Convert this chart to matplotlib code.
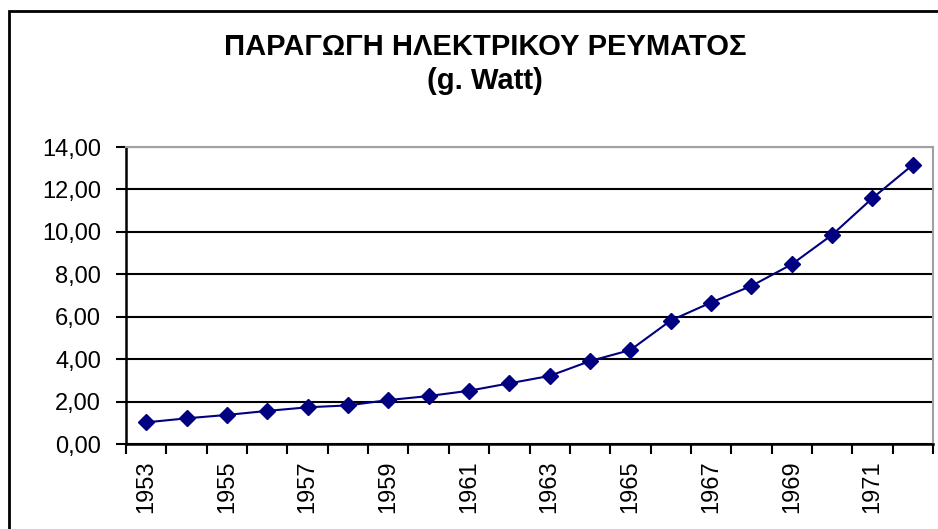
import matplotlib
matplotlib.use('Agg')
import matplotlib.pyplot as plt
from matplotlib.patches import Rectangle
from matplotlib.ticker import FixedLocator

years = [1953, 1954, 1955, 1956, 1957, 1958, 1959, 1960, 1961, 1962,
         1963, 1964, 1965, 1966, 1967, 1968, 1969, 1970, 1971, 1972]
production = [1.02, 1.21, 1.37, 1.56, 1.73, 1.82, 2.07, 2.26, 2.51, 2.86,
              3.21, 3.91, 4.43, 5.82, 6.67, 7.45, 8.47, 9.86, 11.59, 13.16]
y_ticks = [0, 2, 4, 6, 8, 10, 12, 14]
title = 'ΠΑΡΑΓΩΓΗ ΗΛΕΚΤΡΙΚΟΥ ΡΕΥΜΑΤΟΣ\n(g. Watt)'

plt.rcParams['font.family'] = ['Liberation Sans', 'DejaVu Sans']

fig = plt.figure(figsize=(9.38, 5.29), dpi=100)
ax = fig.add_axes([126 / 938, 1 - 444 / 529, 807 / 938, 297 / 529])

x = list(range(len(years)))
ax.plot(x, production, color='#000080', linewidth=1.5, marker='D',
        markersize=8.5, markerfacecolor='#000080', markeredgecolor='#000080',
        zorder=3)

ax.set_xlim(-0.5, len(years) - 0.5)
ax.set_ylim(0, 14)

# y axis
ax.set_yticks(y_ticks)
ax.set_yticklabels([f'{v:.2f}'.replace('.', ',') for v in y_ticks], fontsize=17)
ax.yaxis.grid(True, color='black', linewidth=1.5)
ax.set_axisbelow(True)

# x axis: ticks between categories, labels every other year
ax.xaxis.set_major_locator(FixedLocator([i - 0.5 for i in range(len(years) + 1)]))
ax.set_xticklabels([])
ax.set_xticks(x[::2], minor=True)
ax.set_xticklabels([str(y) for y in years[::2]], minor=True, rotation=90,
                   fontsize=17)
ax.tick_params(axis='x', which='minor', length=0, pad=12)
ax.tick_params(axis='both', which='major', direction='out', length=7,
               width=1.5, color='black')
ax.tick_params(axis='y', pad=11)

for side in ['left', 'bottom']:
    ax.spines[side].set_linewidth(1.8)
    ax.spines[side].set_color('black')
for side in ['top', 'right']:
    ax.spines[side].set_linewidth(1.5)
    ax.spines[side].set_color('#a0a0a0')

fig.text(0.517, 1 - 64 / 529, title, ha='center', va='center', fontsize=21,
         fontweight='bold', linespacing=1.25)

# outer chart frame
fig.patches.append(Rectangle((9 / 938, -1), 2, 1 + (1 - 11 / 529),
                             transform=fig.transFigure, fill=False,
                             edgecolor='black', linewidth=2, clip_on=False))

fig.savefig('out.png', dpi=100)
